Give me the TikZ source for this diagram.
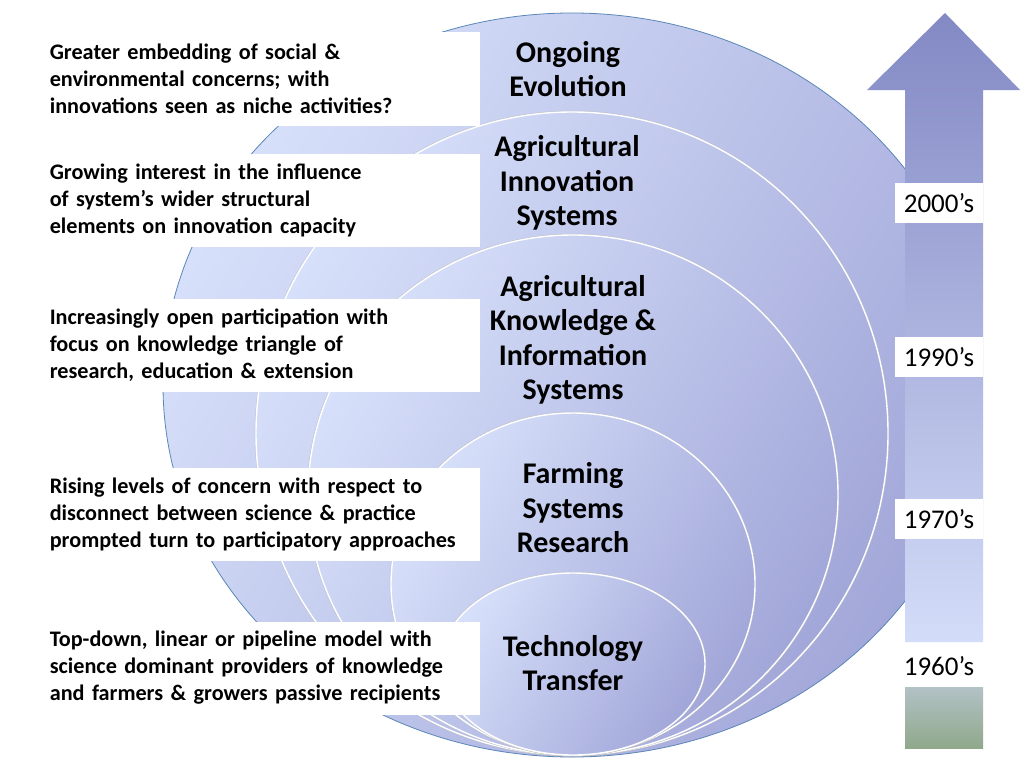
\documentclass[tikz,border=0pt]{standalone}
\usepackage{fontspec}
\setmainfont{Carlito}

\definecolor{ringlight}{HTML}{D7E0FA}
\definecolor{ringmid}{HTML}{C9D2F4}
\definecolor{ringdark}{HTML}{A2A7D9}
\definecolor{rimblue}{HTML}{5A86B8}
\definecolor{arrowtop}{HTML}{8389C4}
\definecolor{arrowmid}{HTML}{C3CCF1}
\definecolor{arrowlow}{HTML}{D3DCF8}
\definecolor{basetop}{HTML}{B2C2C6}
\definecolor{basebot}{HTML}{90A88B}

\begin{document}
\begin{tikzpicture}[x=1pt,y=-1pt,
    ring/.style={top color=ringlight, middle color=ringmid, bottom color=ringdark, shading angle=60},
    ringedge/.style={draw=white, line width=1.4pt},
    ringshadow/.style={draw=black!25, line width=0.4pt},
    note/.style={fill=white, anchor=east, minimum height=93pt, text width=420pt,
        inner xsep=10pt, inner ysep=0pt, align=left,
        font=\fontsize{22.2}{27}\selectfont\bfseries},
    ringlabel/.style={align=center, inner sep=0pt,
        font=\fontsize{30}{34.5}\selectfont\bfseries},
    year/.style={fill=white, minimum width=88pt, minimum height=40pt, inner sep=0pt,
        font=\fontsize{27}{30}\selectfont}]
    \useasboundingbox (0,0) rectangle (1024,768);
    \fill[white] (0,0) rectangle (1024,768);

    % nested rings, all resting on the same bottom line
    \shade[ring] (572,385) ellipse [x radius=409, y radius=372];
    \draw[rimblue, line width=0.8pt] (572,385) ellipse [x radius=409, y radius=372];
    \foreach \cx/\cy/\rx/\ry in {572/433.5/316/321.5, 573/495/265/260, 573/584/182/171, 573/664/132/91} {
        \draw[ringshadow] (\cx,\cy) ellipse [x radius=\rx+1, y radius=\ry+1];
        \shade[ring] (\cx,\cy) ellipse [x radius=\rx, y radius=\ry];
        \draw[ringedge] (\cx,\cy) ellipse [x radius=\rx, y radius=\ry];
    }

    % time arrow
    \shade[top color=arrowtop, middle color=arrowmid, bottom color=arrowlow]
        (905,642) -- (905,90) -- (867,90) -- (945,13) -- (1020,90) -- (983,90) -- (983,642) -- cycle;
    \shade[top color=basetop, bottom color=basebot] (905,687) rectangle (983,748);

    % notes on the left
    \node[note] (noteOngoing) at (480,79) {Greater embedding of social \&\\environmental concerns; with\\innovations seen as niche activities?};
    \node[note] (noteAIS) at (480,200) {Growing interest in the influence\\of system’s wider structural\\elements on innovation capacity};
    \node[note] (noteAKIS) at (480,345.5) {Increasingly open participation with\\focus on knowledge triangle of\\research, education \& extension};
    \node[note] (noteFSR) at (480,514.5) {Rising levels of concern with respect to\\disconnect between science \& practice\\prompted turn to participatory approaches};
    \node[note] (noteTT) at (480,668) {Top-down, linear or pipeline model with\\science dominant providers of knowledge\\and farmers \& growers passive recipients};

    % ring labels
    \node[ringlabel] (ongoing) at (568,69) {Ongoing\\Evolution};
    \node[ringlabel] (ais) at (567,183) {Agricultural\\Innovation\\Systems};
    \node[ringlabel] (akis) at (573,340) {Agricultural\\Knowledge \&\\Information\\Systems};
    \node[ringlabel] (fsr) at (573,508) {Farming\\Systems\\Research};
    \node[ringlabel] (tt) at (573,663) {Technology\\Transfer};

    % decades
    \node[year] (yr2000) at (939,203) {2000’s};
    \node[year] (yr1990) at (939,357) {1990’s};
    \node[year] (yr1970) at (939,519) {1970’s};
    \node[year] (yr1960) at (939,666) {1960’s};
\end{tikzpicture}
\end{document}
